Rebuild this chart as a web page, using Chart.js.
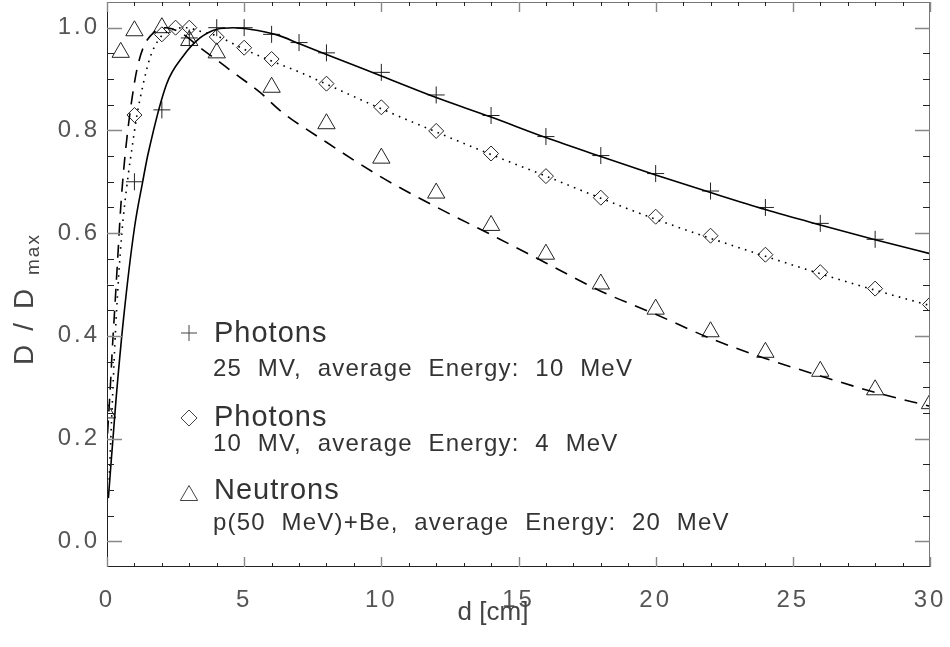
<!DOCTYPE html>
<html>
<head>
<meta charset="utf-8">
<script src="https://cdn.jsdelivr.net/npm/chart.js@4.4.1/dist/chart.umd.min.js"></script>
<style>
  html, body { margin: 0; padding: 0; background: #fff; }
  canvas { display: block; }
</style>
</head>
<body>
<canvas id="doseChart" width="950" height="647"></canvas>
<script>
// measured points (depth in cm, relative dose)
const depth25 = [1, 2, 3, 4, 5, 6, 7, 8, 10, 12, 14, 16, 18, 20, 22, 24, 26, 28];
const dose25 = [0.70, 0.84, 0.98, 1.00, 1.00, 0.987, 0.971, 0.951, 0.913, 0.869, 0.829, 0.788, 0.751, 0.716, 0.682, 0.650, 0.619, 0.588];

const depth10 = [1, 2, 2.5, 3, 4, 5, 6, 8, 10, 12, 14, 16, 18, 20, 22, 24, 26, 28, 30];
const dose10 = [0.83, 0.987, 1.00, 1.00, 0.982, 0.961, 0.939, 0.891, 0.845, 0.799, 0.755, 0.711, 0.669, 0.632, 0.595, 0.558, 0.524, 0.492, 0.461];

const depthN = [0, 0.5, 1, 2, 3, 4, 6, 8, 10, 12, 14, 16, 18, 20, 22, 24, 26, 28, 30];
const doseN = [0.25, 0.952, 0.994, 1.00, 0.975, 0.951, 0.884, 0.813, 0.746, 0.678, 0.615, 0.559, 0.501, 0.452, 0.408, 0.368, 0.331, 0.295, 0.268];

// fitted curves
const curveD25 = [0.05, 0.32, 0.6, 1.0, 1.3, 1.5, 2.17, 2.78, 3.39, 4.0, 4.6, 5.2, 6.2, 7.04, 8, 10, 12, 14, 16, 18, 20, 22, 24, 26, 28, 30];
const curveV25 = [0.084, 0.27, 0.432, 0.61, 0.70, 0.755, 0.89, 0.945, 0.980, 0.997, 1.0, 0.997, 0.986, 0.968, 0.948, 0.906, 0.864, 0.826, 0.786, 0.749, 0.713, 0.679, 0.646, 0.616, 0.587, 0.560];

const curveD10 = [0.08, 0.17, 0.33, 0.53, 0.78, 0.9, 1.08, 1.32, 1.57, 1.93, 2.42, 2.9, 3.39, 4, 5, 6, 7.04, 8, 10, 12, 14, 16, 18, 20, 22, 24, 26, 28, 30];
const curveV10 = [0.12, 0.24, 0.43, 0.593, 0.716, 0.761, 0.826, 0.89, 0.942, 0.980, 0.997, 1.0, 0.993, 0.984, 0.958, 0.935, 0.913, 0.89, 0.842, 0.797, 0.753, 0.711, 0.668, 0.627, 0.590, 0.555, 0.521, 0.489, 0.459];

const curveDN = [0.02, 0.12, 0.2, 0.29, 0.4, 0.5, 0.62, 0.78, 0.9, 1.08, 1.32, 1.69, 2.17, 2.78, 3.39, 3.88, 4.6, 5.58, 6.3, 8, 10, 12, 14, 16, 18, 20, 22, 24, 26, 28, 30];
const curveVN = [0.21, 0.30, 0.38, 0.46, 0.56, 0.65, 0.73, 0.81, 0.858, 0.916, 0.961, 0.99, 1.0, 0.987, 0.961, 0.942, 0.913, 0.874, 0.839, 0.777, 0.709, 0.651, 0.597, 0.542, 0.487, 0.442, 0.395, 0.356, 0.322, 0.290, 0.263];

const xTicks = [0, 5, 10, 15, 20, 25, 30];
const yTicks = [0, 0.2, 0.4, 0.6, 0.8, 1.0];

const legendItems = [
    { symbol: 'cross', title: 'Photons', sub: '25  MV,  average  Energy:  10  MeV' },
    { symbol: 'rectRot', title: 'Photons', sub: '10  MV,  average  Energy:  4  MeV' },
    { symbol: 'triangle', title: 'Neutrons', sub: 'p(50  MeV)+Be,  average  Energy:  20  MeV' }
];

const FONT = '"Liberation Sans", Arial, Helvetica, sans-serif';
const TEXT = '#444';

function toXY(xs, ys) {
    return xs.map((x, i) => ({ x: x, y: ys[i] }));
}

function drawSymbol(ctx, kind, x, y, r) {
    ctx.beginPath();
    if (kind === 'cross') {
        ctx.moveTo(x - r, y); ctx.lineTo(x + r, y);
        ctx.moveTo(x, y - r); ctx.lineTo(x, y + r);
    } else if (kind === 'rectRot') {
        ctx.moveTo(x - r, y); ctx.lineTo(x, y - r);
        ctx.lineTo(x + r, y); ctx.lineTo(x, y + r);
        ctx.closePath();
    } else {
        ctx.moveTo(x - r * 0.87, y + r * 0.75);
        ctx.lineTo(x, y - r * 0.75);
        ctx.lineTo(x + r * 0.87, y + r * 0.75);
        ctx.closePath();
    }
    ctx.stroke();
}

// frame with inward ticks on all four sides, IDL style
const framePlugin = {
    id: 'frame',
    beforeDraw(chart) {
        chart.ctx.letterSpacing = '3px';
    },
    afterDraw(chart) {
        const ctx = chart.ctx;
        const a = chart.chartArea;
        const xs = chart.scales.x, ys = chart.scales.y;
        ctx.save();
        ctx.letterSpacing = '0px';

        ctx.lineWidth = 1;
        ctx.strokeStyle = '#777';
        ctx.beginPath();
        ctx.moveTo(a.left, a.top + 0.5); ctx.lineTo(a.right, a.top + 0.5);
        ctx.moveTo(a.right - 0.5, a.top); ctx.lineTo(a.right - 0.5, a.bottom);
        ctx.stroke();
        ctx.strokeStyle = '#222';
        ctx.beginPath();
        ctx.moveTo(a.left + 0.5, a.top); ctx.lineTo(a.left + 0.5, a.bottom);
        ctx.moveTo(a.left, a.bottom - 0.5); ctx.lineTo(a.right, a.bottom - 0.5);
        ctx.stroke();

        for (let d = 0; d <= 30; d++) {
            const major = d % 5 === 0;
            const px = Math.round(xs.getPixelForValue(d)) + 0.5;
            const len = major ? 10 : 4;
            ctx.strokeStyle = major ? '#888' : '#222';
            ctx.lineWidth = major ? 1.4 : 1;
            ctx.beginPath();
            ctx.moveTo(px, a.bottom); ctx.lineTo(px, a.bottom - len);
            ctx.moveTo(px, a.top); ctx.lineTo(px, a.top + len);
            ctx.stroke();
        }
        for (let i = 0; i <= 20; i++) {
            const major = i % 4 === 0;
            const py = Math.round(ys.getPixelForValue(i * 0.05)) + 0.5;
            const len = major ? 15 : 7;
            ctx.strokeStyle = major ? '#888' : '#222';
            ctx.lineWidth = major ? 1.4 : 1;
            ctx.beginPath();
            ctx.moveTo(a.left, py); ctx.lineTo(a.left + len, py);
            ctx.moveTo(a.right, py); ctx.lineTo(a.right - len, py);
            ctx.stroke();
        }

        // axis titles
        ctx.fillStyle = TEXT;
        ctx.textBaseline = 'alphabetic';
        ctx.font = '26px ' + FONT;
        ctx.letterSpacing = '0px';
        ctx.textAlign = 'center';
        ctx.fillText('d [cm]', 493, 620);

        ctx.save();
        ctx.translate(33, 365);
        ctx.rotate(-Math.PI / 2);
        ctx.textAlign = 'left';
        ctx.font = '28px ' + FONT;
        ctx.letterSpacing = '14px';
        ctx.fillText('D/D', 0, 0);
        ctx.font = '19px ' + FONT;
        ctx.letterSpacing = '2px';
        ctx.fillText('max', 90, 6);
        ctx.restore();

        // legend written inside the plot
        const symX = 189, textX = 214;
        const symY = [333, 418, 493];
        const titleY = [342, 426, 499];
        const subY = [376, 451, 530];
        legendItems.forEach((it, i) => {
            ctx.strokeStyle = '#444';
            ctx.lineWidth = 1;
            drawSymbol(ctx, it.symbol, symX, symY[i], it.symbol === 'triangle' ? 10 : 8);
            ctx.textAlign = 'left';
            ctx.fillStyle = '#333';
            ctx.font = '29px ' + FONT;
            ctx.letterSpacing = '1px';
            ctx.fillText(it.title, textX, titleY[i]);
            ctx.font = '24px ' + FONT;
            ctx.letterSpacing = '1.2px';
            ctx.fillText(it.sub, textX - 1, subY[i]);
        });
        ctx.restore();
    }
};

const lineBase = { showLine: true, pointRadius: 0, borderColor: '#000', borderWidth: 1.6, cubicInterpolationMode: 'monotone', fill: false };
const markBase = { showLine: false, borderColor: '#222', backgroundColor: 'rgba(0,0,0,0)', pointBorderWidth: 1, clip: 0 };

function noPad(s) {
    s.paddingLeft = 0; s.paddingRight = 0; s.paddingTop = 0; s.paddingBottom = 0;
}

const ctx = document.getElementById('doseChart').getContext('2d');
const doseChart = new Chart(ctx, {
    type: 'scatter',
    data: {
        datasets: [
            Object.assign({ label: '25 MV fit', data: toXY(curveD25, curveV25) }, lineBase),
            Object.assign({ label: '10 MV fit', data: toXY(curveD10, curveV10) }, lineBase, { borderDash: [1.6, 5.4] }),
            Object.assign({ label: 'Neutron fit', data: toXY(curveDN, curveVN) }, lineBase, { borderDash: [13, 9] }),
            Object.assign({ label: 'Photons 25 MV', data: toXY(depth25, dose25), pointStyle: 'cross', pointRadius: 8.5 }, markBase),
            Object.assign({ label: 'Photons 10 MV', data: toXY(depth10, dose10), pointStyle: 'rectRot', pointRadius: 7.5 }, markBase),
            Object.assign({ label: 'Neutrons', data: toXY(depthN, doseN), pointStyle: 'triangle', pointRadius: 10 }, markBase)
        ]
    },
    options: {
        responsive: false,
        animation: false,
        layout: { autoPadding: false, padding: { top: 2, right: 20, left: 0, bottom: 0 } },
        plugins: {
            legend: { display: false },
            tooltip: { enabled: false }
        },
        scales: {
            x: {
                type: 'linear',
                min: 0,
                max: 30,
                grid: { display: false, drawTicks: false },
                border: { display: false },
                afterBuildTicks: s => { s.ticks = xTicks.map(v => ({ value: v })); },
                afterFit: s => { s.height = 80; noPad(s); },
                ticks: {
                    font: { family: FONT, size: 24 },
                    color: '#555',
                    padding: 19,
                    maxRotation: 0,
                    autoSkip: false
                }
            },
            y: {
                type: 'linear',
                min: -0.05,
                max: 1.05,
                grid: { display: false, drawTicks: false },
                border: { display: false },
                afterBuildTicks: s => { s.ticks = yTicks.map(v => ({ value: v })); },
                afterFit: s => { s.width = 107; noPad(s); },
                ticks: {
                    font: { family: FONT, size: 24 },
                    color: '#555',
                    padding: 7,
                    callback: v => v.toFixed(1)
                }
            }
        }
    },
    plugins: [framePlugin]
});
</script>
</body>
</html>
